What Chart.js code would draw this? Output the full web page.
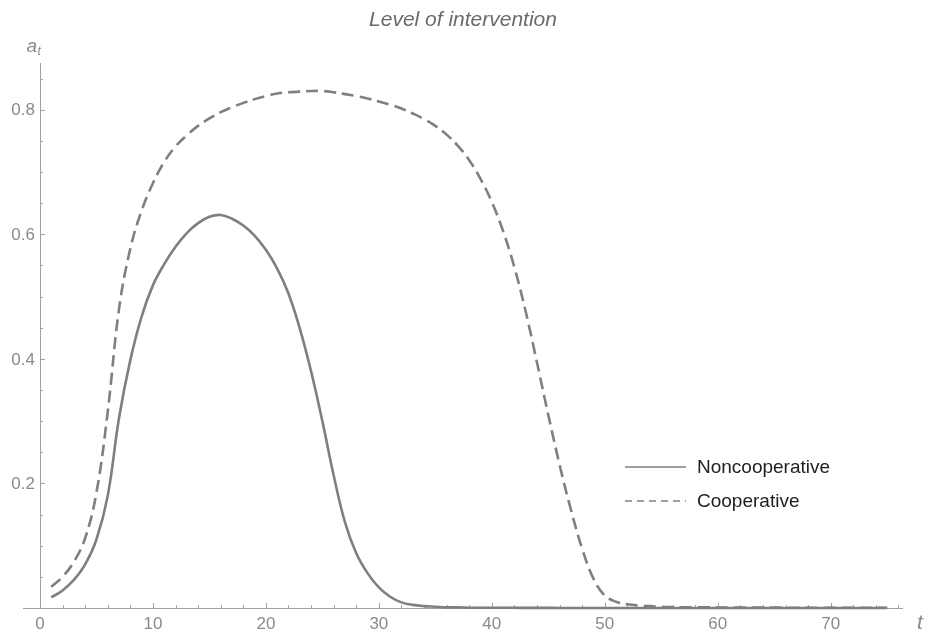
<!DOCTYPE html>
<html>
<head>
<meta charset="utf-8">
<script src="https://cdn.jsdelivr.net/npm/chart.js@4.4.1/dist/chart.umd.min.js"></script>
<style>
  html, body { margin: 0; padding: 0; background: #ffffff; }
  #wrap { width: 925px; height: 637px; position: relative; }
</style>
</head>
<body>
<div id="wrap"><canvas id="chart" width="925" height="637"></canvas></div>
<script>
// Period t
const periods = [
  1, 2, 3, 4, 5, 6, 7, 8, 9, 10, 11, 12, 13, 14, 15, 16, 17, 18, 19, 20,
  21, 22, 23, 24, 25, 26, 27, 28, 29, 30, 31, 32, 33, 34, 35, 36, 37, 38, 39, 40,
  41, 42, 43, 44, 45, 46, 47, 48, 49, 50, 51, 52, 53, 54, 55, 56, 57, 58, 59, 60,
  61, 62, 63, 64, 65, 66, 67, 68, 69, 70, 71, 72, 73, 74, 75
];

// Level of intervention a_t, noncooperative equilibrium
const noncooperative = [
  0.017, 0.028, 0.045, 0.070, 0.110, 0.180, 0.305, 0.398, 0.468, 0.518,
  0.552, 0.580, 0.602, 0.618, 0.628, 0.631, 0.625, 0.614, 0.598, 0.575,
  0.545, 0.505, 0.449, 0.380, 0.300, 0.213, 0.138, 0.088, 0.056, 0.033,
  0.018, 0.009, 0.005, 0.003, 0.002, 0.001, 0.001, 0.0005, 0.0005, 0.0004,
  0.0003, 0.0003, 0.0002, 0.0002, 0.0002, 0.0001, 0.0001, 0.0001, 0.0001, 0.0001,
  0, 0, 0, 0, 0, 0, 0, 0, 0, 0,
  0, 0, 0, 0, 0, 0, 0, 0, 0, 0,
  0, 0, 0, 0, 0
];

// Level of intervention a_t, cooperative solution
const cooperative = [
  0.034, 0.050, 0.074, 0.112, 0.185, 0.315, 0.480, 0.577, 0.638, 0.682,
  0.716, 0.741, 0.759, 0.774, 0.786, 0.796, 0.804, 0.811, 0.817, 0.822,
  0.826, 0.828, 0.829, 0.830, 0.830, 0.828, 0.825, 0.822, 0.818, 0.813,
  0.808, 0.802, 0.794, 0.785, 0.774, 0.760, 0.742, 0.719, 0.689, 0.652,
  0.605, 0.547, 0.476, 0.394, 0.310, 0.230, 0.158, 0.095, 0.047, 0.020,
  0.010, 0.006, 0.004, 0.003, 0.002, 0.0015, 0.0012, 0.001, 0.001, 0.0009,
  0.0008, 0.0007, 0.0007, 0.0006, 0.0006, 0.0005, 0.0005, 0.0005, 0.0004, 0.0004,
  0.0004, 0.0003, 0.0003, 0.0003, 0.0003
];

const xTickLabels = [0, 10, 20, 30, 40, 50, 60, 70];
const yTickLabels = [0.2, 0.4, 0.6, 0.8];

const seriesNames = ['Noncooperative', 'Cooperative'];

const LINE_GRAY = '#7f7f7f';
const AXIS_GRAY = '#a0a0a0';
const LABEL_GRAY = '#8a8a8a';
const FONT = '"Liberation Sans", Arial, Helvetica, sans-serif';

const X_MIN = -1.5, X_MAX = 76.4, Y_MIN = 0, Y_MAX = 0.875;

function toPoints(values) {
  return periods.map((t, i) => ({ x: t, y: values[i] }));
}

// Axes crossing at the origin, with inward ticks
const axesPlugin = {
  id: 'originAxes',
  beforeDatasetsDraw(chart) {
    const ctx = chart.ctx;
    const xs = chart.scales.x, ys = chart.scales.y;
    const x0 = xs.getPixelForValue(0);
    const y0 = ys.getPixelForValue(0);
    ctx.save();
    ctx.strokeStyle = AXIS_GRAY;
    ctx.lineWidth = 1;

    // x axis
    ctx.beginPath();
    ctx.moveTo(xs.getPixelForValue(X_MIN), y0 + 0.5);
    ctx.lineTo(xs.getPixelForValue(X_MAX), y0 + 0.5);
    ctx.stroke();
    for (let t = 0; t <= 76; t += 2) {
      const px = Math.round(xs.getPixelForValue(t)) + 0.5;
      const len = (t % 10 === 0) ? 5 : 3;
      ctx.beginPath();
      ctx.moveTo(px, y0);
      ctx.lineTo(px, y0 - len);
      ctx.stroke();
    }

    // y axis
    ctx.beginPath();
    ctx.moveTo(Math.round(x0) + 0.5, y0);
    ctx.lineTo(Math.round(x0) + 0.5, ys.getPixelForValue(Y_MAX));
    ctx.stroke();
    for (let k = 1; k <= 17; k++) {
      const v = k * 0.05;
      const py = Math.round(ys.getPixelForValue(v)) + 0.5;
      const len = (k % 4 === 0) ? 5 : 3;
      ctx.beginPath();
      ctx.moveTo(x0, py);
      ctx.lineTo(x0 + len, py);
      ctx.stroke();
    }

    // tick labels
    ctx.fillStyle = LABEL_GRAY;
    ctx.font = '17px ' + FONT;
    ctx.textAlign = 'center';
    ctx.textBaseline = 'top';
    xTickLabels.forEach(v => {
      ctx.fillText(String(v), xs.getPixelForValue(v), y0 + 8);
    });
    ctx.textAlign = 'right';
    ctx.textBaseline = 'middle';
    yTickLabels.forEach(v => {
      ctx.fillText(v.toFixed(1), x0 - 5, ys.getPixelForValue(v) + 1);
    });

    // axis labels
    ctx.textAlign = 'left';
    ctx.textBaseline = 'alphabetic';
    ctx.font = 'italic 19px ' + FONT;
    ctx.fillText('a', 26.5, 52);
    ctx.font = 'italic 12px ' + FONT;
    ctx.fillText('t', 37.5, 55);
    ctx.font = 'italic 21px ' + FONT;
    ctx.fillText('t', 917, 629);
    ctx.restore();
  },
  afterDraw(chart) {
    const ctx = chart.ctx;
    ctx.save();
    // title
    ctx.fillStyle = '#6a6a6a';
    ctx.font = 'italic 21px ' + FONT;
    ctx.textAlign = 'center';
    ctx.textBaseline = 'middle';
    ctx.fillText('Level of intervention', 463, 20);

    // legend
    const rows = [
      { name: seriesNames[0], y: 467, dash: [] },
      { name: seriesNames[1], y: 501, dash: [7, 5] }
    ];
    rows.forEach(r => {
      ctx.strokeStyle = LINE_GRAY;
      ctx.lineWidth = 1.4;
      ctx.setLineDash(r.dash);
      ctx.beginPath();
      ctx.moveTo(625, r.y);
      ctx.lineTo(686, r.y);
      ctx.stroke();
      ctx.setLineDash([]);
      ctx.fillStyle = '#1e1e1e';
      ctx.font = '19px ' + FONT;
      ctx.textAlign = 'left';
      ctx.textBaseline = 'middle';
      ctx.fillText(r.name, 697, r.y + 1);
    });
    ctx.restore();
  }
};

new Chart(document.getElementById('chart'), {
  type: 'line',
  data: {
    datasets: [
      {
        label: seriesNames[0],
        data: toPoints(noncooperative),
        borderColor: LINE_GRAY,
        borderWidth: 2.6,
        pointRadius: 0,
        fill: false,
        tension: 0.4,
        clip: false
      },
      {
        label: seriesNames[1],
        data: toPoints(cooperative),
        borderColor: LINE_GRAY,
        borderWidth: 2.6,
        borderDash: [12, 6],
        pointRadius: 0,
        fill: false,
        tension: 0.4,
        clip: false
      }
    ]
  },
  options: {
    responsive: false,
    animation: false,
    devicePixelRatio: 1,
    layout: { padding: { left: 23, right: 22, top: 63, bottom: 29 } },
    scales: {
      x: { type: 'linear', min: X_MIN, max: X_MAX, display: false },
      y: { type: 'linear', min: Y_MIN, max: Y_MAX, display: false }
    },
    plugins: {
      legend: { display: false },
      tooltip: { enabled: false },
      title: { display: false }
    }
  },
  plugins: [axesPlugin]
});
</script>
</body>
</html>
